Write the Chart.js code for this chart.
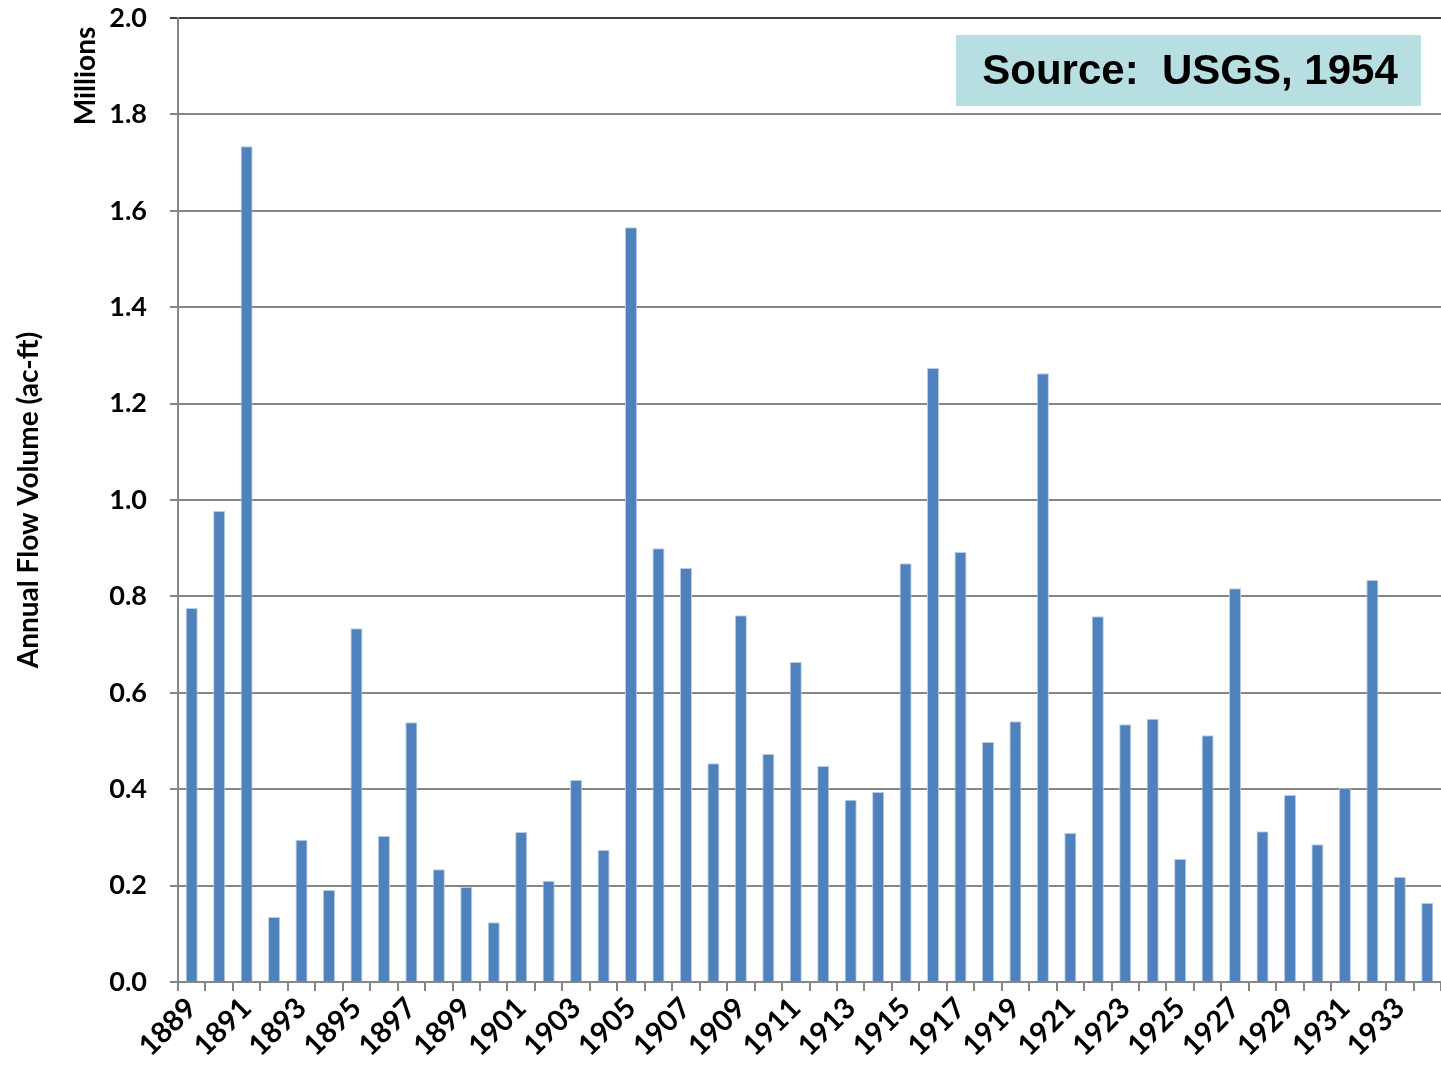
<!DOCTYPE html>
<html>
<head>
<meta charset="utf-8">
<script src="https://cdn.jsdelivr.net/npm/chart.js@4/dist/chart.umd.min.js"></script>
<style>
html,body{margin:0;padding:0;background:#fff;}
#wrap{position:relative;width:1441px;height:1069px;}
</style>
</head>
<body>
<div id="wrap"><canvas id="c" width="1441" height="1069"></canvas></div>
<script>
const years = [1889,1890,1891,1892,1893,1894,1895,1896,1897,1898,1899,1900,1901,1902,1903,1904,1905,1906,1907,1908,1909,1910,1911,1912,1913,1914,1915,1916,1917,1918,1919,1920,1921,1922,1923,1924,1925,1926,1927,1928,1929,1930,1931,1932,1933,1934];
const flowMillions = [0.776,0.977,1.734,0.135,0.295,0.191,0.734,0.303,0.539,0.234,0.197,0.124,0.311,0.210,0.419,0.274,1.566,0.900,0.859,0.454,0.761,0.473,0.664,0.448,0.378,0.394,0.869,1.274,0.892,0.498,0.541,1.263,0.309,0.759,0.535,0.546,0.255,0.512,0.817,0.313,0.388,0.286,0.402,0.834,0.218,0.164];
const yTicks = [0.0,0.2,0.4,0.6,0.8,1.0,1.2,1.4,1.6,1.8,2.0];
const yTitle = 'Annual Flow Volume (ac-ft)';
const unitLabel = 'Millions';
const sourceNote = 'Source:  USGS, 1954';

const FONT = 'Lato, "Open Sans", sans-serif';

const extras = {
  id: 'extras',
  afterDraw(chart) {
    const ctx = chart.ctx;
    ctx.save();
    ctx.translate(86, 76);
    ctx.rotate(-Math.PI / 2);
    ctx.font = 'bold 28px ' + FONT;
    ctx.fillStyle = '#000';
    ctx.textAlign = 'center';
    ctx.textBaseline = 'middle';
    ctx.fillText(unitLabel, 0, 0);
    ctx.restore();
    ctx.save();
    ctx.fillStyle = '#b7dfe2';
    ctx.fillRect(956, 35, 465, 71);
    ctx.font = 'bold 42px "Liberation Sans", Arial, sans-serif';
    ctx.fillStyle = '#000';
    ctx.textAlign = 'center';
    ctx.textBaseline = 'middle';
    ctx.fillText(sourceNote, 1190, 72);
    ctx.restore();
  }
};

new Chart(document.getElementById('c'), {
  type: 'bar',
  data: {
    labels: years.map(String),
    datasets: [{
      data: flowMillions,
      backgroundColor: '#4f81bd',
      borderColor: '#b9cde5',
      borderWidth: {top: 1, left: 1, right: 1, bottom: 0},
      barPercentage: 0.44,
      categoryPercentage: 1.0
    }]
  },
  options: {
    responsive: false,
    animation: false,
    devicePixelRatio: 1,
    layout: { padding: { top: 18, right: 0, left: 0, bottom: 0 } },
    plugins: { legend: { display: false }, tooltip: { enabled: false } },
    scales: {
      x: {
        offset: true,
        grid: {
          drawOnChartArea: false,
          drawTicks: true,
          tickLength: 9,
          offset: true,
          color: '#868686',
          lineWidth: 2
        },
        border: { display: true, color: '#868686', width: 2 },
        ticks: {
          autoSkip: false,
          maxRotation: 45,
          minRotation: 45,
          padding: 0,
          color: '#000',
          font: { family: FONT, size: 29, weight: 'bold' },
          callback: function(v, i) { return i % 2 === 0 ? this.getLabelForValue(v) : ''; }
        },
        afterFit(scale) { scale.height = 87; scale.paddingLeft = 0; scale.paddingRight = 0; }
      },
      y: {
        min: 0,
        max: 2,
        afterBuildTicks(scale) { scale.ticks = yTicks.map(v => ({ value: v })); },
        grid: {
          color: (c) => c.tick && c.tick.value === 2 ? '#404040' : '#868686',
          lineWidth: 2,
          tickLength: 8,
          drawTicks: true
        },
        border: { display: true, color: '#868686', width: 2 },
        ticks: {
          color: '#000',
          padding: 23,
          font: { family: FONT, size: 27, weight: 'bold' },
          callback: (v) => Number(v).toFixed(1)
        },
        title: {
          display: true,
          text: yTitle,
          color: '#000',
          font: { family: FONT, size: 28, weight: 'bold' },
          padding: { top: 12, bottom: 0 }
        },
        afterFit(scale) { scale.width = 178; scale.paddingTop = 0; scale.paddingBottom = 0; }
      }
    }
  },
  plugins: [extras]
});
</script>
</body>
</html>
